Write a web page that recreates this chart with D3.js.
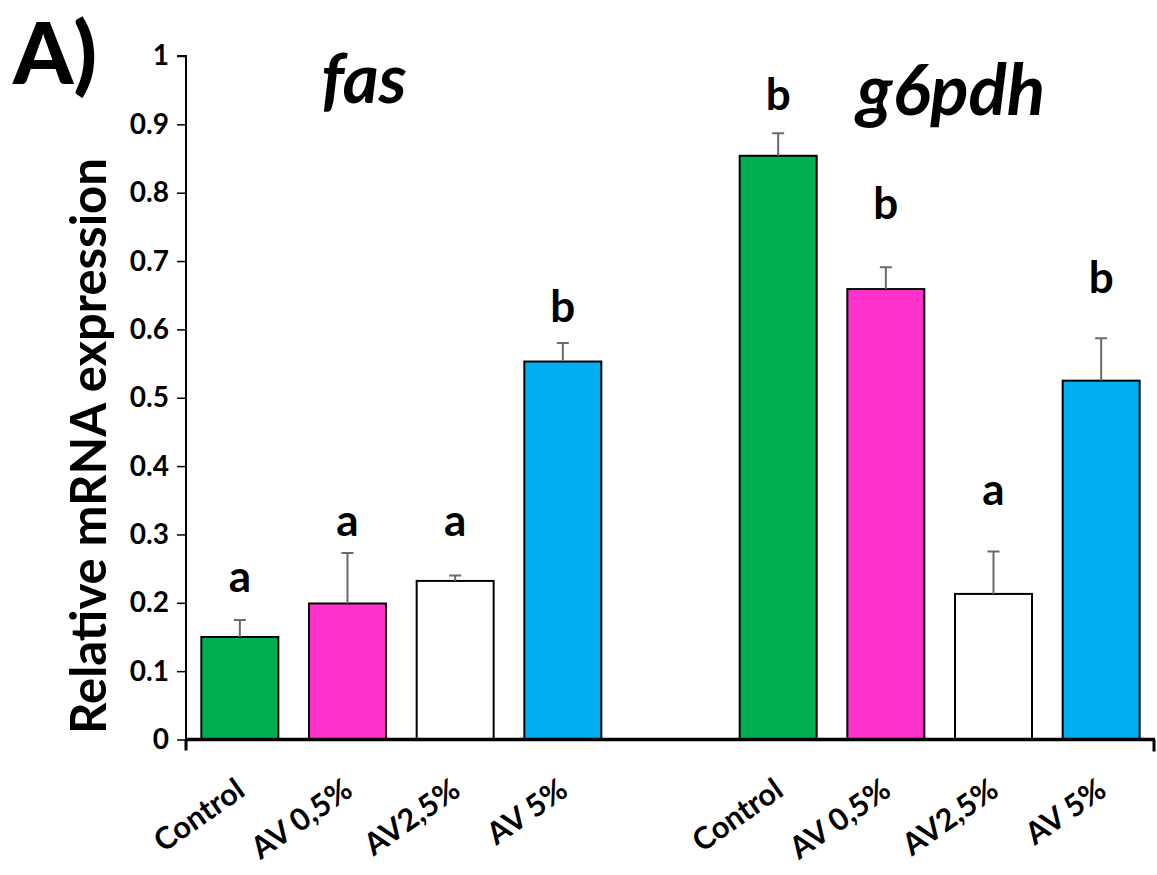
<!DOCTYPE html>
<html>
<head>
<meta charset="utf-8">
<script src="https://cdn.jsdelivr.net/npm/d3@7"></script>
<style>
  html, body { margin: 0; padding: 0; background: #fff; }
  svg { display: block; font-family: Lato, "Open Sans", sans-serif; }
</style>
</head>
<body>
<svg id="chart" width="1157" height="875"></svg>
<script>
// Relative mRNA expression of fas and g6pdh under AV supplementation
const genes = ["fas", "g6pdh"];
const treatments = ["Control", "AV 0,5%", "AV2,5%", "AV 5%"];
const fasMean = [0.150, 0.199, 0.232, 0.553];
const fasSE = [0.025, 0.074, 0.008, 0.027];
const g6pdhMean = [0.854, 0.659, 0.213, 0.525];
const g6pdhSE = [0.033, 0.032, 0.062, 0.062];
const fasLetters = ["a", "a", "a", "b"];
const g6pdhLetters = ["b", "b", "a", "b"];
// height (in expression units) at which each significance letter sits
const fasLetterAt = [0.216, 0.298, 0.298, 0.611];
const g6pdhLetterAt = [0.921, 0.762, 0.343, 0.653];
const yTicks = [0, 0.1, 0.2, 0.3, 0.4, 0.5, 0.6, 0.7, 0.8, 0.9, 1];
const treatmentColors = ["#00B050", "#FF33CC", "#FFFFFF", "#00B0F0"];

const rows = [];
const geneData = {
  fas: { mean: fasMean, se: fasSE, letters: fasLetters, at: fasLetterAt },
  g6pdh: { mean: g6pdhMean, se: g6pdhSE, letters: g6pdhLetters, at: g6pdhLetterAt }
};
genes.forEach(g => {
  treatments.forEach((t, i) => {
    rows.push({
      key: g + "|" + t, gene: g, treatment: t, idx: i,
      mean: geneData[g].mean[i], se: geneData[g].se[i],
      letter: geneData[g].letters[i], letterAt: geneData[g].at[i]
    });
  });
});
// slot order with an empty slot between the two genes
const slots = [...rows.slice(0, 4).map(d => d.key), "gap", ...rows.slice(4).map(d => d.key)];

const svg = d3.select("#chart");
const plotLeft = 186, plotRight = 1155, plotTop = 56, plotBottom = 739.5;

const x = d3.scaleBand().domain(slots).range([plotLeft, plotRight])
  .paddingInner(0.285).paddingOuter(0.1425);
const y = d3.scaleLinear().domain([0, 1]).range([plotBottom, plotTop]);

// y axis
const yAxis = svg.append("g").attr("transform", `translate(${plotLeft},0)`)
  .call(d3.axisLeft(y).tickValues(yTicks).tickSize(9).tickPadding(8)
    .tickFormat(d => d === 0 ? "0" : d === 1 ? "1" : d3.format(".1f")(d)));
yAxis.select(".domain").attr("stroke", "#000").attr("stroke-width", 2)
  .attr("d", `M-9,${y(1)}H0V${plotBottom}`);
yAxis.selectAll(".tick line").attr("stroke", "#000").attr("stroke-width", 1.5);
yAxis.selectAll(".tick text").attr("font-family", "Lato, sans-serif")
  .attr("font-size", 28).attr("font-weight", 700).attr("fill", "#000");

// bars
svg.append("g").selectAll("rect").data(rows).join("rect")
  .attr("x", d => x(d.key))
  .attr("y", d => y(d.mean))
  .attr("width", x.bandwidth())
  .attr("height", d => y(0) - y(d.mean))
  .attr("fill", d => treatmentColors[d.idx])
  .attr("stroke", "#000").attr("stroke-width", 2);

// error bars (upper only)
const eb = svg.append("g").attr("stroke", "#6b6b6b").attr("stroke-width", 2).attr("fill", "none");
eb.selectAll("path").data(rows).join("path")
  .attr("d", d => {
    const cx = x(d.key) + x.bandwidth() / 2;
    const y0 = y(d.mean), y1 = y(d.mean + d.se);
    return `M${cx},${y0}V${y1}M${cx - 6},${y1}H${cx + 6}`;
  });

// x axis line with end ticks
svg.append("path")
  .attr("d", `M${plotLeft},${plotBottom}H${plotRight}`)
  .attr("stroke", "#000").attr("stroke-width", 3.5);
svg.append("path")
  .attr("d", `M${plotLeft},${plotBottom}V${plotBottom + 11}M${plotRight - 1},${plotBottom}V${plotBottom + 12}`)
  .attr("stroke", "#000").attr("stroke-width", 3);

// category labels, sized so that "Control" spans about 102px
const catLabels = svg.append("g").selectAll("text").data(rows).join("text")
  .attr("transform", d => `translate(${x(d.key) + x.bandwidth() / 2 + 7},${plotBottom + 55}) rotate(-35)`)
  .attr("text-anchor", "end")
  .attr("font-size", 30).attr("font-weight", 700)
  .text(d => d.treatment);
const ctrlLen = catLabels.filter((d, i) => i === 0).node().getComputedTextLength();
catLabels.attr("font-size", 30 * 102 / ctrlLen);

// significance letters
svg.append("g").selectAll("text").data(rows).join("text")
  .attr("x", d => x(d.key) + x.bandwidth() / 2)
  .attr("y", d => y(d.letterAt))
  .attr("text-anchor", "middle")
  .attr("font-size", 44).attr("font-weight", 700)
  .text(d => d.letter);

// gene titles
svg.append("text").attr("x", 364).attr("y", 103).attr("text-anchor", "middle")
  .attr("font-size", 69).attr("font-weight", 700).attr("font-style", "italic").text(genes[0]);
svg.append("text").attr("x", 951).attr("y", 115).attr("text-anchor", "middle")
  .attr("font-size", 71).attr("font-weight", 700).attr("font-style", "italic").text(genes[1]);

// panel label
svg.append("text").attr("x", 13).attr("y", 84)
  .attr("font-size", 86).attr("font-weight", 900).text("A)");

// y axis title
const yt = svg.append("text")
  .attr("transform", `translate(106,${(158 + 734) / 2}) rotate(-90)`)
  .attr("text-anchor", "middle")
  .attr("font-size", 50).attr("font-weight", 700)
  .text("Relative mRNA expression");
const w = yt.node().getComputedTextLength();
yt.attr("font-size", 50 * 576 / w);
</script>
</body>
</html>
